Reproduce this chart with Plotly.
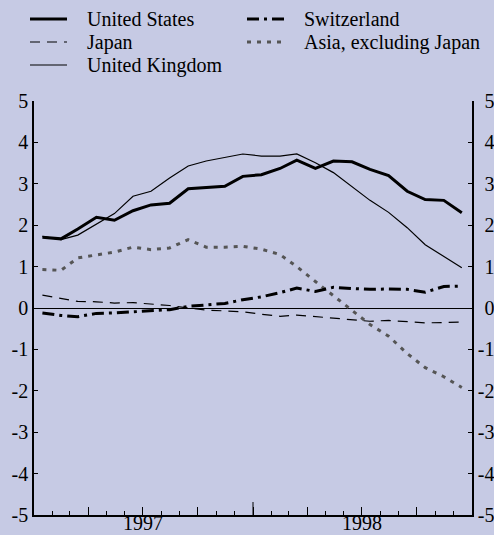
import plotly.graph_objects as go

# monthly observations, plotted mid-month
months = [f"{y}-{m:02d}-15" for y in (1997, 1998) for m in range(1, 13)]

united_states = [1.71, 1.67, 1.91, 2.19, 2.12, 2.35, 2.49, 2.53, 2.88, 2.91, 2.94, 3.18,
                 3.22, 3.37, 3.57, 3.37, 3.55, 3.53, 3.35, 3.20, 2.82, 2.62, 2.60, 2.30]
japan = [0.31, 0.24, 0.16, 0.15, 0.12, 0.13, 0.10, 0.06, 0.00, -0.05, -0.07, -0.09,
         -0.15, -0.20, -0.17, -0.21, -0.25, -0.29, -0.32, -0.30, -0.33, -0.36, -0.35, -0.34]
united_kingdom = [1.73, 1.65, 1.76, 2.02, 2.28, 2.70, 2.82, 3.14, 3.43, 3.55, 3.64, 3.72,
                  3.67, 3.67, 3.72, 3.51, 3.27, 2.92, 2.60, 2.31, 1.94, 1.53, 1.25, 0.97]
switzerland = [-0.12, -0.18, -0.21, -0.13, -0.12, -0.09, -0.07, -0.04, 0.04, 0.08, 0.11, 0.20,
               0.27, 0.37, 0.48, 0.40, 0.50, 0.47, 0.45, 0.46, 0.45, 0.38, 0.52, 0.53]
asia_ex_japan = [0.93, 0.91, 1.21, 1.28, 1.35, 1.47, 1.41, 1.45, 1.65, 1.47, 1.47, 1.49,
                 1.42, 1.29, 1.00, 0.64, 0.30, -0.05, -0.40, -0.68, -1.10, -1.44, -1.66, -1.92]

quarter_ticks = ["1997-04-01", "1997-07-01", "1997-10-01", "1998-01-01",
                 "1998-04-01", "1998-07-01", "1998-10-01"]
year_labels = ["1997", "1998"]
year_centres = ["1997-07-01", "1998-07-01"]
y_ticks = list(range(-5, 6))
y_text = [str(v) for v in y_ticks]  # plain hyphen, as in the original
# right-hand labels: digits line up, minus hangs left
y2_text = [s if s.startswith("-") else "\u2004" + s for s in y_text]

BG = "#c6cae4"
FONT = "Liberation Serif"
FONT_SPEC = dict(family=FONT, size=20, color="black")

W, H = 494, 535
L, R, T, B = 34, 22, 101, 20

styles = {
    "United States": dict(color="black", width=3),
    "Japan": dict(color="black", width=1.2, dash="10px,7px"),
    "United Kingdom": dict(color="black", width=1.2),
    "Switzerland": dict(color="black", width=3, dash="12px,5px,3px,5px"),
    "Asia, excluding Japan": dict(color="#555555", width=3, dash="4px,6px"),
}
data = {
    "United States": united_states,
    "Japan": japan,
    "United Kingdom": united_kingdom,
    "Switzerland": switzerland,
    "Asia, excluding Japan": asia_ex_japan,
}

fig = go.Figure()
for name in ["Asia, excluding Japan", "Japan", "United Kingdom", "Switzerland", "United States"]:
    fig.add_trace(go.Scatter(x=months, y=data[name], mode="lines", name=name,
                             line=styles[name], showlegend=False))


def px(x):
    return (x - L) / (W - L - R)


def py(y):
    return (H - B - y) / (H - T - B)


# hand-drawn legend: two columns
legend_slots = {
    "United States": (30, 67, 85, 19),
    "Japan": (30, 67, 85, 42),
    "United Kingdom": (30, 67, 85, 65),
    "Switzerland": (247, 287, 302, 19),
    "Asia, excluding Japan": (247, 287, 302, 42),
}
for name, (x0, x1, xt, yy) in legend_slots.items():
    fig.add_shape(type="line", xref="paper", yref="paper",
                  x0=px(x0), x1=px(x1), y0=py(yy), y1=py(yy), line=styles[name])
    fig.add_annotation(text=name, xref="paper", yref="paper", x=px(xt), y=py(yy),
                       xanchor="left", yanchor="middle", showarrow=False, font=FONT_SPEC)

# year labels sit centred under each year, tight to the bottom edge
for label, centre in zip(year_labels, year_centres):
    fig.add_annotation(text=label, xref="x", yref="paper", x=centre, y=py(536),
                       xanchor="center", yanchor="bottom", showarrow=False, font=FONT_SPEC)

# taller tick at the year boundary
fig.add_shape(type="line", xref="x", yref="paper", x0="1998-01-01", x1="1998-01-01",
              y0=0, y1=13 / (H - T - B), line=dict(color="black", width=1))

axis_common = dict(showline=True, linecolor="black", linewidth=1.5, showgrid=False,
                   automargin=False, tickcolor="black", tickfont=FONT_SPEC)

fig.update_layout(
    width=W, height=H,
    margin=dict(l=L, r=R, t=T, b=B, autoexpand=False),
    paper_bgcolor=BG, plot_bgcolor=BG,
    font=FONT_SPEC,
    showlegend=False,
    xaxis=dict(type="date", range=["1997-01-01", "1999-01-01"],
               tickmode="array", tickvals=quarter_ticks, ticktext=[""] * len(quarter_ticks),
               ticks="inside", ticklen=8, tickwidth=1, zeroline=False,
               minor=dict(dtick="M1", tick0="1997-01-01", ticks="inside", ticklen=4,
                          tickcolor="black", tickwidth=1),
               **axis_common),
    yaxis=dict(range=[-5, 5], tickmode="array", tickvals=y_ticks, ticktext=y_text,
               ticks="inside", ticklen=4,
               zeroline=True, zerolinecolor="black", zerolinewidth=1, **axis_common),
    yaxis2=dict(range=[-5, 5], tickmode="array", tickvals=y_ticks, ticktext=y2_text,
                ticks="inside", ticklen=4, zeroline=False,
                overlaying="y", side="right", **axis_common),
)
# invisible trace to bring the right axis to life
fig.add_trace(go.Scatter(x=[months[0]], y=[0], yaxis="y2", mode="markers",
                         marker=dict(opacity=0), showlegend=False, hoverinfo="skip"))

fig.write_html("out.html", config={"displayModeBar": False},
               post_script="document.body.style.margin='0';")
